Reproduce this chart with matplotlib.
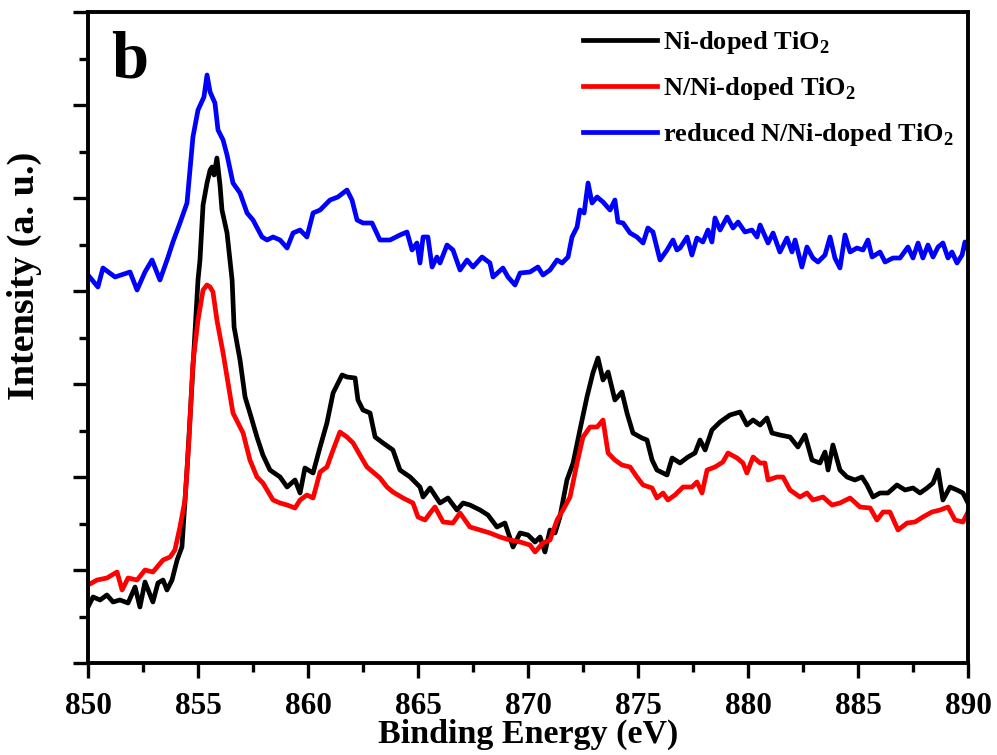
#!/usr/bin/env python3
#coding: utf-8

import numpy as np
import matplotlib as mpl
mpl.use('Agg')
import matplotlib.pyplot as plt
from matplotlib.ticker import MultipleLocator

mpl.rcParams['font.family'] = ['Liberation Serif', 'DejaVu Serif']
mpl.rcParams['font.weight'] = 'bold'
mpl.rcParams['mathtext.fontset'] = 'custom'
mpl.rcParams['mathtext.rm'] = 'Liberation Serif:bold'
mpl.rcParams['mathtext.bf'] = 'Liberation Serif:bold'

# Ni 2p спектры, энергия связи (eV) и интенсивность (a.u.)
ni_x = [850.00, 850.23, 850.55, 850.86, 851.14, 851.45, 851.82, 852.14, 852.36, 852.59,
		852.95, 853.18, 853.41, 853.59, 853.82, 854.05, 854.27, 854.50, 854.77, 855.00,
		855.09, 855.23, 855.41, 855.55, 855.64, 855.73, 855.86, 856.00, 856.09, 856.32,
		856.55, 856.64, 856.91, 857.14, 857.36, 857.68, 857.95, 858.27, 858.73, 859.05,
		859.41, 859.64, 859.86, 860.23, 860.55, 860.86, 861.14, 861.55, 861.77, 862.14,
		862.27, 862.50, 862.82, 863.05, 863.41, 863.86, 864.18, 864.64, 865.09, 865.23,
		865.55, 866.00, 866.36, 866.77, 867.05, 867.36, 867.82, 868.18, 868.59, 868.95,
		869.32, 869.64, 870.00, 870.32, 870.55, 870.77, 871.00, 871.23, 871.45, 871.77,
		872.05, 872.36, 872.68, 872.95, 873.18, 873.41, 873.64, 873.95, 874.27, 874.50,
		874.77, 875.18, 875.41, 875.64, 875.86, 876.32, 876.55, 876.91, 877.27, 877.59,
		877.82, 878.05, 878.36, 878.73, 879.18, 879.64, 879.95, 880.23, 880.55, 880.86,
		881.09, 881.45, 881.91, 882.27, 882.59, 882.91, 883.27, 883.50, 883.64, 883.86,
		884.18, 884.50, 884.86, 885.18, 885.41, 885.68, 886.00, 886.36, 886.77, 887.14,
		887.50, 887.82, 888.14, 888.41, 888.64, 888.86, 889.18, 889.50, 889.77, 890.00]
ni_y = [56, 66, 63, 68, 61, 63, 60, 76, 56, 81,
		61, 80, 83, 73, 83, 103, 116, 193, 296, 383,
		403, 458, 480, 493, 496, 488, 505, 478, 453, 430,
		383, 336, 303, 266, 250, 226, 208, 193, 186, 176,
		183, 170, 195, 190, 216, 240, 270, 288, 286, 285,
		263, 253, 250, 226, 220, 213, 193, 186, 176, 166,
		175, 160, 165, 153, 160, 158, 153, 148, 136, 140,
		116, 130, 128, 121, 126, 111, 133, 130, 146, 183,
		200, 233, 266, 290, 305, 283, 291, 263, 271, 250,
		230, 225, 223, 203, 193, 188, 205, 200, 206, 210,
		223, 213, 233, 241, 248, 251, 238, 243, 238, 245,
		230, 228, 226, 216, 228, 203, 200, 211, 193, 218,
		193, 186, 183, 186, 178, 166, 170, 170, 178, 173,
		175, 170, 175, 180, 193, 163, 176, 173, 170, 160]

nni_x = [850.00, 850.41, 850.86, 851.32, 851.55, 851.82, 852.23, 852.59, 852.95, 853.41,
		853.73, 853.95, 854.18, 854.41, 854.59, 854.77, 855.00, 855.23, 855.41, 855.55,
		855.68, 855.86, 856.14, 856.32, 856.59, 857.05, 857.36, 857.68, 857.95, 858.41,
		858.73, 859.05, 859.41, 859.64, 859.95, 860.23, 860.55, 860.86, 861.14, 861.45,
		861.77, 862.05, 862.36, 862.68, 862.95, 863.27, 863.59, 863.86, 864.32, 864.77,
		865.00, 865.32, 865.55, 865.77, 866.14, 866.59, 866.91, 867.36, 867.82, 868.27,
		868.73, 869.18, 869.64, 870.09, 870.32, 870.68, 871.00, 871.32, 871.59, 871.91,
		872.23, 872.50, 872.82, 873.14, 873.41, 873.64, 873.95, 874.27, 874.64, 874.95,
		875.23, 875.64, 875.86, 876.14, 876.36, 876.68, 877.05, 877.45, 877.68, 877.91,
		878.14, 878.50, 878.86, 879.09, 879.50, 879.77, 879.95, 880.23, 880.55, 880.77,
		880.91, 881.32, 881.59, 881.91, 882.36, 882.68, 882.95, 883.41, 883.82, 884.18,
		884.64, 885.09, 885.55, 885.86, 886.14, 886.45, 886.82, 887.23, 887.59, 887.95,
		888.36, 888.73, 889.09, 889.41, 889.77, 890.00]
nni_y = [78, 83, 85, 91, 73, 85, 83, 93, 91, 103,
		106, 113, 136, 163, 223, 300, 343, 373, 378, 376,
		371, 343, 310, 286, 250, 230, 203, 186, 180, 163,
		160, 158, 155, 163, 168, 165, 191, 196, 213, 231,
		226, 220, 208, 196, 191, 185, 176, 171, 165, 160,
		146, 143, 150, 156, 141, 140, 150, 136, 133, 130,
		126, 123, 121, 118, 111, 120, 123, 143, 153, 166,
		200, 226, 236, 236, 243, 210, 203, 198, 196, 186,
		178, 175, 165, 170, 163, 168, 176, 176, 181, 170,
		193, 196, 201, 210, 205, 200, 190, 206, 200, 200,
		183, 186, 186, 173, 166, 170, 163, 166, 158, 160,
		165, 156, 155, 143, 151, 151, 133, 140, 141, 146,
		151, 153, 156, 143, 141, 151]

red_x = [850.00, 850.45, 850.68, 851.23, 851.91, 852.23, 852.59, 852.91, 853.27, 853.64,
		853.86, 854.18, 854.50, 854.77, 855.00, 855.27, 855.41, 855.55, 855.77, 855.91,
		856.14, 856.32, 856.59, 856.91, 857.23, 857.50, 857.91, 858.14, 858.41, 858.73,
		859.05, 859.32, 859.64, 859.95, 860.23, 860.55, 861.00, 861.36, 861.77, 862.00,
		862.23, 862.50, 862.91, 863.27, 863.73, 864.18, 864.50, 864.73, 864.95, 865.09,
		865.23, 865.45, 865.64, 865.86, 866.00, 866.32, 866.59, 866.91, 867.23, 867.50,
		867.91, 868.27, 868.41, 868.86, 869.09, 869.41, 869.64, 870.09, 870.45, 870.68,
		871.00, 871.32, 871.55, 871.82, 872.00, 872.23, 872.36, 872.55, 872.73, 872.91,
		873.14, 873.41, 873.73, 873.95, 874.09, 874.32, 874.64, 874.95, 875.23, 875.45,
		875.68, 876.00, 876.32, 876.59, 876.77, 876.91, 877.23, 877.45, 877.68, 877.95,
		878.18, 878.36, 878.50, 878.73, 879.05, 879.32, 879.55, 879.86, 880.18, 880.41,
		880.55, 880.91, 881.14, 881.45, 881.77, 882.00, 882.14, 882.45, 882.68, 882.95,
		883.18, 883.50, 883.73, 883.95, 884.18, 884.41, 884.64, 884.95, 885.23, 885.45,
		885.64, 886.00, 886.23, 886.59, 886.91, 887.27, 887.50, 887.73, 887.95, 888.18,
		888.41, 888.64, 888.86, 889.09, 889.27, 889.50, 889.73, 889.86, 890.00]
red_y = [388, 376, 395, 386, 391, 373, 391, 403, 383, 406,
		421, 440, 460, 526, 553, 566, 588, 571, 560, 533,
		523, 508, 480, 470, 450, 443, 426, 423, 426, 423,
		415, 430, 433, 426, 450, 453, 463, 466, 473, 463,
		443, 440, 440, 423, 423, 428, 431, 413, 420, 400,
		426, 426, 396, 406, 400, 418, 413, 393, 403, 396,
		406, 400, 386, 395, 386, 378, 390, 391, 396, 388,
		393, 403, 400, 406, 426, 436, 453, 450, 480, 460,
		466, 461, 453, 463, 441, 440, 430, 426, 420, 435,
		431, 403, 413, 423, 413, 415, 426, 408, 425, 421,
		433, 421, 445, 433, 446, 435, 441, 431, 433, 426,
		438, 420, 430, 411, 425, 411, 423, 396, 416, 405,
		401, 408, 426, 405, 395, 428, 411, 415, 413, 423,
		406, 411, 401, 405, 405, 416, 405, 420, 405, 418,
		406, 416, 420, 405, 411, 400, 408, 421, 413]

labels = [r'Ni-doped TiO$_\mathregular{2}$',
		r'N/Ni-doped TiO$_\mathregular{2}$',
		r'reduced N/Ni-doped TiO$_\mathregular{2}$']

fig = plt.figure(figsize=(9.97, 7.55), dpi=100)
ax = fig.add_axes([88/997, 92/755, 880/997, 651/755])

lw = 3.4
ax.plot(ni_x, ni_y, color='black', lw=lw, label=labels[0])
ax.plot(nni_x, nni_y, color='#ff0000', lw=lw, label=labels[1])
ax.plot(red_x, red_y, color='#0000ff', lw=lw, label=labels[2])

ax.set_xlim(850, 890)
ax.set_ylim(0, 651)
ax.xaxis.set_major_locator(MultipleLocator(5))
ax.xaxis.set_minor_locator(MultipleLocator(2.5))
ax.yaxis.set_major_locator(MultipleLocator(93))
ax.yaxis.set_minor_locator(MultipleLocator(46.5))
ax.set_yticklabels([])

for s in ax.spines.values():
	s.set_linewidth(2.8)
ax.tick_params(which='both', direction='out', width=2.4, top=False, right=False)
ax.tick_params(which='major', length=11)
ax.tick_params(which='minor', length=6.5)
ax.tick_params(axis='x', which='major', labelsize=22.5, pad=10)

ax.set_xlabel('Binding Energy (eV)', fontsize=24.5, fontweight='bold', labelpad=-2)
ax.set_ylabel('Intensity (a. u.)', fontsize=27.5, fontweight='bold')
ax.yaxis.set_label_coords(-0.052, 0.594)

ax.text(0.026, 0.972, 'b', transform=ax.transAxes, fontsize=48, fontweight='bold',
		ha='left', va='top')

leg = ax.legend(loc='upper left', bbox_to_anchor=(0.5625, 0.974), frameon=False,
		fontsize=19, handlelength=2.8, handletextpad=0.25, labelspacing=0.72,
		borderpad=0, borderaxespad=0)

fig.savefig('out.png', dpi=100)
